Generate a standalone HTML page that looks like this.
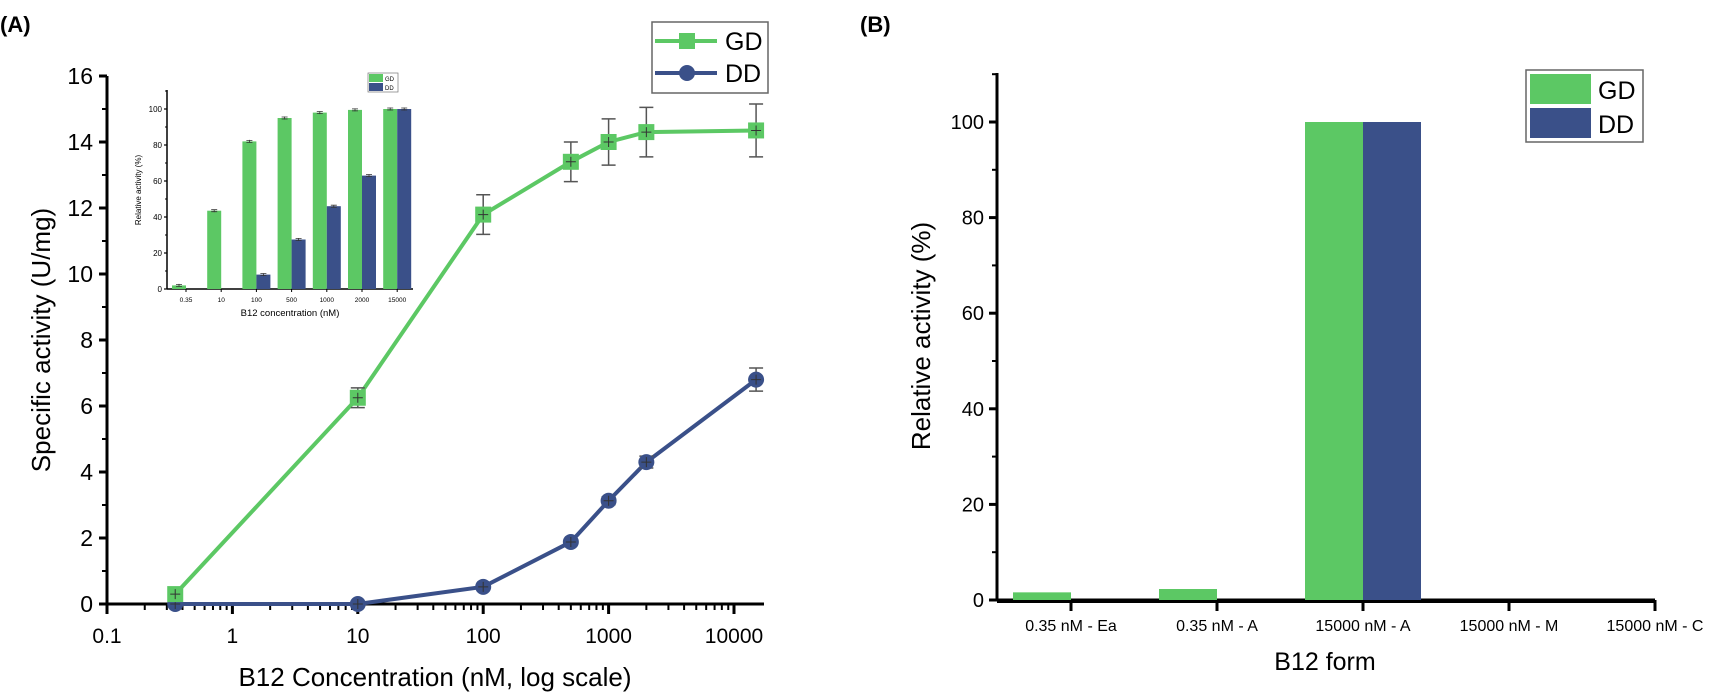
<!DOCTYPE html>
<html><head><meta charset="utf-8">
<style>
body{margin:0;background:#fff;}
svg{display:block;font-family:"Liberation Sans",Arial,sans-serif;}
</style></head>
<body>
<svg id="svg" width="1713" height="697" viewBox="0 0 1713 697" xmlns="http://www.w3.org/2000/svg">
<text x="0" y="32" font-size="22" font-weight="bold">(A)</text>
<text x="860" y="32" font-size="22" font-weight="bold">(B)</text>
<g id="A"></g>
<g id="inset"></g>
<g id="B"></g>
</svg>
<script>
// Panel A data
const concs = [0.35, 10, 100, 500, 1000, 2000, 15000];
const gdVals = [0.3, 6.25, 11.8, 13.4, 14.0, 14.3, 14.35];
const gdErr = [0.15, 0.3, 0.6, 0.6, 0.7, 0.75, 0.8];
const ddVals = [0, 0, 0.52, 1.88, 3.13, 4.3, 6.8];
const ddErr = [0.05, 0.05, 0.08, 0.08, 0.12, 0.18, 0.35];
const aYTicks = [0, 2, 4, 6, 8, 10, 12, 14, 16];
const aXTicks = [0.1, 1, 10, 100, 1000, 10000];
const aXTickLabels = ["0.1", "1", "10", "100", "1000", "10000"];
// Inset data
const insetCats = ["0.35", "10", "100", "500", "1000", "2000", "15000"];
const insetGD = [2, 43.5, 82, 95, 98, 99.5, 100];
const insetDD = [0, 0, 8, 27.5, 46, 63, 100];
const insetYTicks = [0, 20, 40, 60, 80, 100];
// Panel B data
const bCats = ["0.35 nM - Ea", "0.35 nM - A", "15000 nM - A", "15000 nM - M", "15000 nM - C"];
const bGD = [1.6, 2.3, 100, 0, 0];
const bDD = [0, 0, 100, 0, 0];
const bYTicks = [0, 20, 40, 60, 80, 100];

const NS = "http://www.w3.org/2000/svg";
const GREEN = "#5cc864", BLUE = "#3a5089";
function mk(parent, tag, attrs, text){
  const e = document.createElementNS(NS, tag);
  for (const k in attrs) e.setAttribute(k, attrs[k]);
  if (text !== undefined) e.textContent = text;
  parent.appendChild(e); return e;
}

// ---------- Panel A ----------
const A = document.getElementById("A");
const ax0 = 107, ax1 = 764, ay0 = 604, decade = 125.4;
const xA = v => ax0 + decade * (Math.log10(v) + 1);
const yA = v => ay0 - v * 33;
let e;
e = mk(A, "line", {x1: ax0, y1: ay0, x2: ax1, y2: ay0, stroke: "#000", "stroke-width": 3});
 
e = mk(A, "line", {x1: ax0, y1: ay0 + 1.5, x2: ax0, y2: yA(16), stroke: "#000", "stroke-width": 3});
 
aYTicks.forEach(t => {
  mk(A, "line", {x1: ax0 - 8, y1: yA(t), x2: ax0, y2: yA(t), stroke: "#000", "stroke-width": 3});
  if (t < 16) mk(A, "line", {x1: ax0 - 5, y1: yA(t + 1), x2: ax0, y2: yA(t + 1), stroke: "#000", "stroke-width": 2});
  e = mk(A, "text", {x: ax0 - 14, y: yA(t) + 8, "font-size": 23, "text-anchor": "end"}, String(t));
   
});
aXTicks.forEach((t, i) => {
  mk(A, "line", {x1: xA(t), y1: ay0, x2: xA(t), y2: ay0 + 10, stroke: "#000", "stroke-width": 3});
  for (let m = 2; m <= 9; m++) {
    const v = t * m; const x = xA(v);
    if (x < ax1) mk(A, "line", {x1: x, y1: ay0, x2: x, y2: ay0 + 6, stroke: "#000", "stroke-width": 2});
  }
  e = mk(A, "text", {x: xA(t), y: 643, "font-size": 21, "text-anchor": "middle"}, aXTickLabels[i]);
   
});
e = mk(A, "text", {x: 435, y: 686, "font-size": 26, "text-anchor": "middle"}, "B12 Concentration (nM, log scale)");
 
e = mk(A, "text", {x: 0, y: 0, "font-size": 26, "text-anchor": "middle", transform: "translate(50,340) rotate(-90)"}, "Specific activity (U/mg)");
 

function series(vals, errs, color, marker, name){
  const g = mk(A, "g", {});
   
  mk(g, "polyline", {points: concs.map((c, i) => xA(c) + "," + yA(vals[i])).join(" "), fill: "none", stroke: color, "stroke-width": 4});
  concs.forEach((c, i) => {
    const x = xA(c), y = yA(vals[i]), d = errs[i] * 33;
    mk(g, "path", {d: `M${x},${y-d}V${y+d}M${x-7},${y-d}H${x+7}M${x-7},${y+d}H${x+7}`, stroke: "#555", "stroke-width": 1.5, fill: "none"});
    let m;
    if (marker === "sq") m = mk(g, "rect", {x: x - 8, y: y - 8, width: 16, height: 16, fill: color});
    else m = mk(g, "circle", {cx: x, cy: y, r: 8, fill: color});
     
    mk(g, "path", {d: `M${x},${y-5}V${y+5}M${x-5},${y}H${x+5}`, stroke: "#333", "stroke-width": 1});
  });
}
series(ddVals, ddErr, BLUE, "ci", "dd");
series(gdVals, gdErr, GREEN, "sq", "gd");

// Legend A
const lg = mk(A, "g", {});  
mk(lg, "rect", {x: 652, y: 22, width: 116, height: 71, fill: "#fff", stroke: "#666", "stroke-width": 1.5});
mk(lg, "line", {x1: 655, y1: 41, x2: 717, y2: 41, stroke: GREEN, "stroke-width": 4});
mk(lg, "rect", {x: 679, y: 33, width: 16, height: 16, fill: GREEN});
mk(lg, "text", {x: 725, y: 50, "font-size": 25}, "GD");
mk(lg, "line", {x1: 655, y1: 73, x2: 717, y2: 73, stroke: BLUE, "stroke-width": 4});
mk(lg, "circle", {cx: 687, cy: 73, r: 8, fill: BLUE});
mk(lg, "text", {x: 725, y: 82, "font-size": 25}, "DD");

// ---------- Inset ----------
const I = document.getElementById("inset");
const ix0 = 167, ix1 = 413, iy0 = 289, catW = 35.2, c0 = 186;
const yI = v => iy0 - v * 1.8;
const xI = i => c0 + i * catW;
mk(I, "line", {x1: ix0, y1: iy0, x2: ix1, y2: iy0, stroke: "#000", "stroke-width": 1.5});
mk(I, "line", {x1: ix0, y1: iy0, x2: ix0, y2: 90, stroke: "#000", "stroke-width": 1.5});
insetYTicks.forEach(t => {
  mk(I, "line", {x1: ix0 - 3, y1: yI(t), x2: ix0, y2: yI(t), stroke: "#000", "stroke-width": 1.2});
  mk(I, "line", {x1: ix0 - 2, y1: yI(t + 10), x2: ix0, y2: yI(t + 10), stroke: "#000", "stroke-width": 1});
  e = mk(I, "text", {x: ix0 - 5, y: yI(t) + 3, "font-size": 8, "text-anchor": "end"}, String(t));
   
});
insetCats.forEach((c, i) => {
  const x = xI(i);
  e = mk(I, "rect", {x: x - 14, y: yI(insetGD[i]), width: 14, height: insetGD[i] * 1.8, fill: GREEN});
   
  e = mk(I, "rect", {x: x, y: yI(insetDD[i]), width: 14, height: insetDD[i] * 1.8, fill: BLUE});
   
  [[x - 7, insetGD[i]], [x + 7, insetDD[i]]].forEach(([bx, v]) => {
    if (v > 0) mk(I, "path", {d: `M${bx-3},${yI(v)-1}H${bx+3}M${bx},${yI(v)-1.5}V${yI(v)+1.5}M${bx-3},${yI(v)+1}H${bx+3}`, stroke: "#333", "stroke-width": 0.8});
  });
  mk(I, "line", {x1: x, y1: iy0, x2: x, y2: iy0 + 3, stroke: "#000", "stroke-width": 1});
  e = mk(I, "text", {x: x, y: 302, "font-size": 6.5, "text-anchor": "middle"}, c);
   
});
e = mk(I, "text", {x: 290, y: 316, "font-size": 9.5, "text-anchor": "middle"}, "B12 concentration (nM)");
 
e = mk(I, "text", {x: 0, y: 0, "font-size": 8, "text-anchor": "middle", transform: "translate(141,190) rotate(-90)"}, "Relative activity (%)");
 
const il = mk(I, "g", {});  
mk(il, "rect", {x: 368, y: 73, width: 30, height: 19, fill: "#fff", stroke: "#777", "stroke-width": 0.7});
mk(il, "rect", {x: 369, y: 74, width: 14, height: 8, fill: GREEN});
mk(il, "rect", {x: 369, y: 83, width: 14, height: 8, fill: BLUE});
mk(il, "text", {x: 385, y: 81, "font-size": 6}, "GD");
mk(il, "text", {x: 385, y: 90, "font-size": 6}, "DD");

// ---------- Panel B ----------
const B = document.getElementById("B");
const bx0 = 997, bx1 = 1655, by0 = 600, tick0 = 1071, step = 146, bw = 58;
const yB = v => by0 - v * 4.78;
const xB = i => tick0 + i * step;
e = mk(B, "line", {x1: bx0, y1: by0, x2: bx1, y2: by0, stroke: "#000", "stroke-width": 3});
 
e = mk(B, "line", {x1: bx0, y1: by0 + 1.5, x2: bx0, y2: 73, stroke: "#000", "stroke-width": 3});
 
bYTicks.forEach(t => {
  mk(B, "line", {x1: bx0 - 8, y1: yB(t), x2: bx0, y2: yB(t), stroke: "#000", "stroke-width": 3});
  mk(B, "line", {x1: bx0 - 5, y1: yB(t + 10), x2: bx0, y2: yB(t + 10), stroke: "#000", "stroke-width": 2});
  e = mk(B, "text", {x: bx0 - 13, y: yB(t) + 7, "font-size": 20, "text-anchor": "end"}, String(t));
   
});
bCats.forEach((c, i) => {
  const x = xB(i);
  if (bGD[i] > 0) { e = mk(B, "rect", {x: x - bw, y: yB(bGD[i]), width: bw, height: bGD[i] * 4.78, fill: GREEN});
      }
  if (bDD[i] > 0) { e = mk(B, "rect", {x: x, y: yB(bDD[i]), width: bw, height: bDD[i] * 4.78, fill: BLUE});
      }
  mk(B, "line", {x1: x, y1: by0, x2: x, y2: by0 + 11, stroke: "#000", "stroke-width": 3});
  e = mk(B, "text", {x: x, y: 631, "font-size": 16, "text-anchor": "middle"}, c);
   
});
mk(B, "line", {x1: bx0, y1: by0 + 1.5, x2: bx1, y2: by0 + 1.5, stroke: "#000", "stroke-width": 3});
e = mk(B, "text", {x: 1325, y: 670, "font-size": 25, "text-anchor": "middle"}, "B12 form");
 
e = mk(B, "text", {x: 0, y: 0, "font-size": 26, "text-anchor": "middle", transform: "translate(930,336) rotate(-90)"}, "Relative activity (%)");
 
const bl = mk(B, "g", {});  
mk(bl, "rect", {x: 1526, y: 70, width: 117, height: 72, fill: "#fff", stroke: "#666", "stroke-width": 1.5});
mk(bl, "rect", {x: 1530, y: 74, width: 61, height: 30, fill: GREEN});
mk(bl, "rect", {x: 1530, y: 108, width: 61, height: 30, fill: BLUE});
mk(bl, "text", {x: 1598, y: 99, "font-size": 25}, "GD");
mk(bl, "text", {x: 1598, y: 133, "font-size": 25}, "DD");
</script>
</body></html>
